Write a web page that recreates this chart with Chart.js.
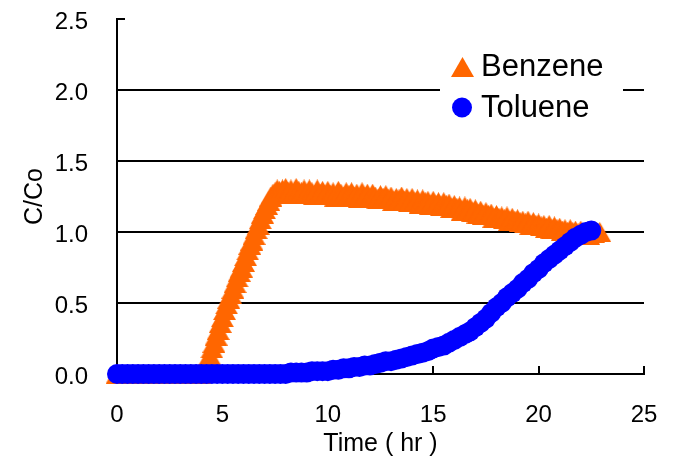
<!DOCTYPE html>
<html>
<head>
<meta charset="utf-8">
<script src="https://cdn.jsdelivr.net/npm/chart.js@4.4.1/dist/chart.umd.min.js"></script>
<style>
  html, body { margin: 0; padding: 0; background: #ffffff; }
  #wrap { width: 674px; height: 459px; }
</style>
</head>
<body>
<div id="wrap"><canvas id="chart"></canvas></div>
<script>
  // benzene: sampling times (hr) and C/Co
  const benzeneTime = [
    0, 0.25, 0.5, 0.75, 1, 1.25, 1.5, 1.75, 2, 2.25, 2.5, 2.75, 3, 3.25, 3.5, 3.75,
    3.9, 4.0, 4.1, 4.2, 4.3, 4.4, 4.5, 4.6, 4.7, 4.8, 4.9, 5.0, 5.1, 5.2, 5.3, 5.4, 5.5, 5.6, 5.7, 5.8,
    5.9, 6.0, 6.1, 6.2, 6.3, 6.4, 6.5, 6.6, 6.7, 6.8, 6.9, 7.0, 7.1, 7.2, 7.3, 7.4, 7.5, 7.6, 7.7, 7.85,
    8, 8.125, 8.25, 8.375, 8.5, 8.625, 8.75, 8.875,
    9, 9.125, 9.25, 9.375, 9.5, 9.625, 9.75, 9.875,
    10, 10.125, 10.25, 10.375, 10.5, 10.625, 10.75, 10.875,
    11, 11.125, 11.25, 11.375, 11.5, 11.625, 11.75, 11.875,
    12, 12.125, 12.25, 12.375, 12.5, 12.625, 12.75, 12.875,
    13, 13.125, 13.25, 13.375, 13.5, 13.625, 13.75, 13.875,
    14, 14.125, 14.25, 14.375, 14.5, 14.625, 14.75, 14.875,
    15, 15.125, 15.25, 15.375, 15.5, 15.625, 15.75, 15.875,
    16, 16.125, 16.25, 16.375, 16.5, 16.625, 16.75, 16.875,
    17, 17.125, 17.25, 17.375, 17.5, 17.625, 17.75, 17.875,
    18, 18.125, 18.25, 18.375, 18.5, 18.625, 18.75, 18.875,
    19, 19.125, 19.25, 19.375, 19.5, 19.625, 19.75, 19.875,
    20, 20.125, 20.25, 20.375, 20.5, 20.625, 20.75, 20.875,
    21, 21.125, 21.25, 21.375, 21.5, 21.625, 21.75, 21.875,
    22, 22.125, 22.25, 22.375, 22.5, 22.625, 22.75, 22.9
  ];
  const benzene = [
    0, 0, 0, 0, 0, 0, 0, 0, 0, 0, 0, 0, 0, 0, 0, 0,
    0.00, 0.01, 0.03, 0.05, 0.09, 0.13, 0.18, 0.22, 0.27, 0.31, 0.36, 0.40, 0.45, 0.49, 0.53, 0.56, 0.60, 0.64, 0.68, 0.72,
    0.75, 0.79, 0.83, 0.87, 0.91, 0.94, 0.98, 1.02, 1.05, 1.09, 1.13, 1.16, 1.19, 1.22, 1.25, 1.27, 1.28, 1.30, 1.29, 1.30,
    1.31, 1.28, 1.30, 1.27, 1.31, 1.29, 1.28, 1.30,
    1.27, 1.30, 1.28, 1.26, 1.30, 1.27, 1.29, 1.26,
    1.29, 1.26, 1.28, 1.25, 1.29, 1.27, 1.25, 1.28,
    1.26, 1.28, 1.25, 1.27, 1.24, 1.28, 1.25, 1.27,
    1.24, 1.27, 1.25, 1.23, 1.26, 1.24, 1.26, 1.23,
    1.25, 1.22, 1.24, 1.23, 1.25, 1.22, 1.24, 1.21,
    1.24, 1.21, 1.23, 1.20, 1.23, 1.21, 1.22, 1.19,
    1.22, 1.19, 1.21, 1.18, 1.21, 1.19, 1.20, 1.17,
    1.19, 1.17, 1.18, 1.15, 1.18, 1.16, 1.17, 1.14,
    1.16, 1.13, 1.15, 1.12, 1.14, 1.12, 1.13, 1.10,
    1.12, 1.10, 1.11, 1.09, 1.11, 1.08, 1.10, 1.08,
    1.09, 1.07, 1.08, 1.06, 1.08, 1.05, 1.07, 1.05,
    1.06, 1.04, 1.05, 1.03, 1.05, 1.02, 1.04, 1.02,
    1.03, 1.01, 1.02, 1.00, 1.02, 1.00, 1.01, 0.99,
    1.01, 0.99, 1.00, 0.98, 1.00, 0.99, 1.00, 1.00
  ];

  // toluene: sampling times (hr) and C/Co
  const tolueneTime = [
    0, 0.25, 0.5, 0.75, 1, 1.25, 1.5, 1.75, 2, 2.25, 2.5, 2.75, 3, 3.25, 3.5, 3.75,
    4, 4.25, 4.5, 4.75, 5, 5.25, 5.5, 5.75, 6, 6.25, 6.5, 6.75, 7, 7.25, 7.5, 7.75,
    8, 8.25, 8.5, 8.75, 9, 9.25, 9.5, 9.75, 10, 10.25, 10.5, 10.75, 11, 11.25, 11.5, 11.75,
    12, 12.25, 12.5, 12.75, 13, 13.25, 13.5, 13.75, 14, 14.25, 14.5, 14.75, 15, 15.25, 15.5, 15.75,
    16, 16.25, 16.5, 16.75, 17, 17.25, 17.5, 17.75, 18, 18.25, 18.5, 18.75, 19, 19.25, 19.5, 19.75,
    20, 20.25, 20.5, 20.75, 21, 21.25, 21.5, 21.75, 22, 22.25, 22.5
  ];
  const toluene = [
    0, 0, 0, 0, 0, 0, 0, 0, 0, 0, 0, 0, 0, 0, 0, 0,
    0, 0, 0, 0, 0, 0, 0, 0, 0, 0, 0, 0, 0, 0, 0, 0,
    0.00, 0.01, 0.01, 0.01, 0.01, 0.02, 0.02, 0.02, 0.02, 0.03, 0.03, 0.04, 0.04, 0.05, 0.05, 0.06,
    0.06, 0.07, 0.08, 0.09, 0.09, 0.10, 0.11, 0.12, 0.13, 0.14, 0.15, 0.16, 0.18, 0.19, 0.20, 0.22,
    0.24, 0.26, 0.28, 0.30, 0.33, 0.36, 0.39, 0.43, 0.47, 0.50, 0.54, 0.57, 0.60, 0.64, 0.67, 0.71,
    0.74, 0.78, 0.81, 0.84, 0.87, 0.90, 0.93, 0.96, 0.98, 1.00, 1.01
  ];

  const seriesNames = ['Benzene', 'Toluene'];
  const xTicks = [0, 5, 10, 15, 20, 25];
  const yTicks = [0, 0.5, 1.0, 1.5, 2.0, 2.5];

  const orange = '#FF6600';
  const blue = '#0000FF';
  const fontFamily = '"Liberation Sans", Arial, sans-serif';

  const toPoints = (times, values) => values.map((v, i) => ({ x: times[i], y: v }));

  // Excel-style triangle marker: centred on its bounding box, not its circumcircle
  const triangleMarker = document.createElement('canvas');
  triangleMarker.width = 23;
  triangleMarker.height = 20;
  (() => {
    const c = triangleMarker.getContext('2d');
    c.fillStyle = orange;
    c.beginPath();
    c.moveTo(11.5, 0);
    c.lineTo(23, 20);
    c.lineTo(0, 20);
    c.closePath();
    c.fill();
  })();

  // drop the automatic label padding so the plot box sits where it should
  const noPad = (s) => {
    s.paddingTop = 0;
    s.paddingBottom = 0;
    s.paddingLeft = 0;
    s.paddingRight = 0;
  };

  // tick marks pointing into the plot, like the original
  const innerTicks = {
    id: 'innerTicks',
    beforeDatasetsDraw(chart) {
      const { ctx, chartArea, scales } = chart;
      ctx.save();
      ctx.strokeStyle = '#000000';
      ctx.lineWidth = 2;
      ctx.beginPath();
      xTicks.forEach((t) => {
        const px = Math.round(scales.x.getPixelForValue(t));
        ctx.moveTo(px, chartArea.bottom);
        ctx.lineTo(px, chartArea.bottom - 8);
      });
      const top = scales.y.getPixelForValue(2.5);
      ctx.moveTo(chartArea.left, top);
      ctx.lineTo(chartArea.left + 8, top);
      ctx.stroke();
      ctx.restore();
    }
  };

  const boxLegend = {
    id: 'boxLegend',
    afterDraw(chart) {
      const { ctx } = chart;
      ctx.save();
      ctx.fillStyle = '#ffffff';
      ctx.fillRect(440, 44, 183, 84);

      ctx.drawImage(triangleMarker, 451, 57);

      ctx.fillStyle = blue;
      ctx.beginPath();
      ctx.arc(462, 107.5, 10, 0, Math.PI * 2);
      ctx.fill();

      ctx.fillStyle = '#000000';
      ctx.font = '31px ' + fontFamily;
      ctx.textBaseline = 'alphabetic';
      ctx.textAlign = 'left';
      ctx.fillText(seriesNames[0], 481, 76);
      ctx.fillText(seriesNames[1], 481, 117);
      ctx.restore();
    }
  };

  const ctx = document.getElementById('chart');

  new Chart(ctx, {
    type: 'scatter',
    data: {
      datasets: [
        {
          label: seriesNames[0],
          data: toPoints(benzeneTime, benzene),
          showLine: false,
          pointStyle: triangleMarker,
          pointRadius: 10,
          pointBorderWidth: 0,
          backgroundColor: orange,
          borderColor: orange,
          clip: false,
          order: 1
        },
        {
          label: seriesNames[1],
          data: toPoints(tolueneTime, toluene),
          showLine: false,
          pointStyle: 'circle',
          pointRadius: 10,
          pointBorderWidth: 0,
          backgroundColor: blue,
          borderColor: blue,
          clip: false,
          order: 0
        }
      ]
    },
    options: {
      responsive: true,
      maintainAspectRatio: false,
      animation: false,
      events: [],
      layout: {
        padding: { top: 19, right: 30, left: 0, bottom: 0 }
      },
      scales: {
        x: {
          type: 'linear',
          min: 0,
          max: 25,
          afterFit: (s) => { s.height = 85; noPad(s); },
          afterBuildTicks: (s) => { s.ticks = xTicks.map((v) => ({ value: v })); },
          ticks: {
            color: '#000000',
            font: { family: fontFamily, size: 24 },
            padding: 27,
            maxRotation: 0
          },
          grid: { display: false, drawTicks: false },
          border: { display: true, color: '#000000', width: 2 },
          title: {
            display: true,
            text: 'Time ( hr )',
            color: '#000000',
            font: { family: fontFamily, size: 25 },
            padding: 0
          }
        },
        y: {
          min: 0,
          max: 2.5,
          afterFit: (s) => { s.width = 117; noPad(s); },
          afterBuildTicks: (s) => { s.ticks = yTicks.map((v) => ({ value: v })); },
          ticks: {
            color: '#000000',
            font: { family: fontFamily, size: 24 },
            padding: 29,
            labelOffset: 3,
            callback: (v) => Number(v).toFixed(1)
          },
          grid: {
            drawTicks: false,
            lineWidth: 2,
            color: (c) => (c.tick && c.tick.value >= 2.5 ? 'rgba(0,0,0,0)' : '#000000')
          },
          border: { display: true, color: '#000000', width: 2 },
          title: {
            display: true,
            text: 'C/Co',
            color: '#000000',
            font: { family: fontFamily, size: 25 },
            padding: { top: 20, bottom: 0, left: 0, right: 0 }
          }
        }
      },
      plugins: {
        legend: { display: false },
        tooltip: { enabled: false }
      }
    },
    plugins: [innerTicks, boxLegend]
  });
</script>
</body>
</html>
